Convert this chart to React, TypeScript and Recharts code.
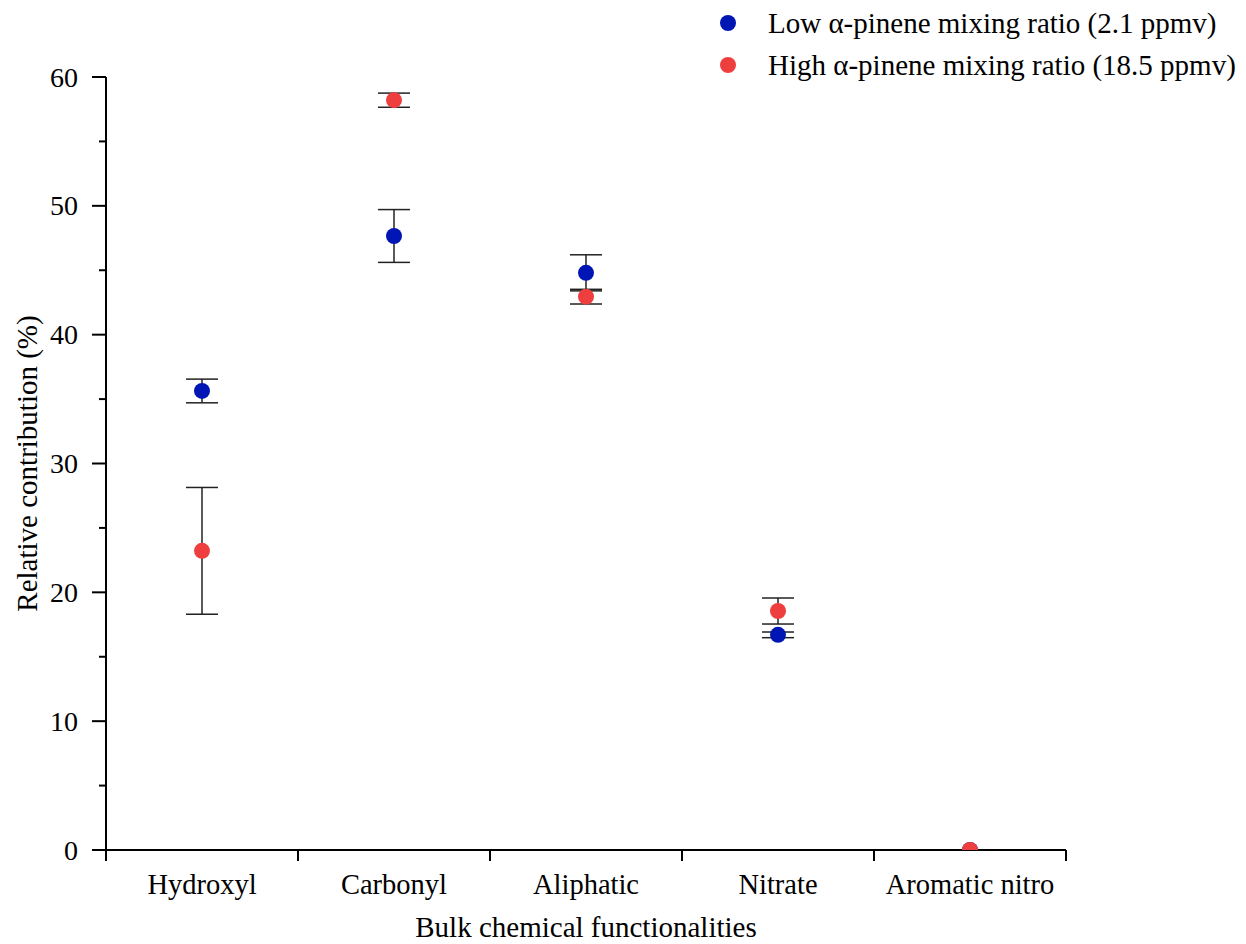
import React from "react";
import { ScatterChart, Scatter, XAxis, YAxis, ErrorBar, Legend, Label } from "recharts";

const categories = ["Hydroxyl", "Carbonyl", "Aliphatic", "Nitrate", "Aromatic nitro"];
const lowValues = [35.63, 47.66, 44.8, 16.7, 0];
const lowErrors = [0.92, 2.05, 1.4, 0.22, 0];
const highValues = [23.22, 58.2, 42.95, 18.55, 0];
const highErrors = [4.92, 0.55, 0.57, 1.01, 0];
const yTicks = [0, 5, 10, 15, 20, 25, 30, 35, 40, 45, 50, 55, 60];
const xTicks = [0, 0.5, 1, 1.5, 2, 2.5, 3, 3.5, 4, 4.5, 5];

const seriesNames = [
  "Low \u03b1-pinene mixing ratio (2.1 ppmv)",
  "High \u03b1-pinene mixing ratio (18.5 ppmv)",
];
const seriesColors = ["#0016B4", "#EE3E3E"];

const FONT = "'Liberation Serif', 'Times New Roman', serif";

const lowData = categories.map((c, i) => ({ x: i + 0.5, y: lowValues[i], err: lowErrors[i], name: c }));
const highData = categories.map((c, i) => ({ x: i + 0.5, y: highValues[i], err: highErrors[i], name: c }));

const YTick = (props: any) => {
  const { x, y, payload } = props;
  const v = payload.value;
  const major = v % 10 === 0;
  return (
    <g>
      <line x1={x - (major ? 14 : 7)} x2={x} y1={y} y2={y} stroke="#000" strokeWidth={2} />
      {major && (
        <text x={x - 28} y={y} textAnchor="end" dominantBaseline="central" fontFamily={FONT} fontSize={28} fill="#000">
          {v}
        </text>
      )}
    </g>
  );
};

const XTick = (props: any) => {
  const { x, y, payload } = props;
  const v = payload.value;
  if (Number.isInteger(v)) {
    return <line x1={x} x2={x} y1={y} y2={y + 11} stroke="#000" strokeWidth={2} />;
  }
  const idx = Math.floor(v);
  return (
    <text x={x} y={y + 34} textAnchor="middle" dominantBaseline="central" fontFamily={FONT} fontSize={28.5} fill="#000">
      {categories[idx]}
    </text>
  );
};

const Dot = (color: string) => (props: any) => {
  const { cx, cy } = props;
  return <circle cx={cx} cy={cy} r={8} fill={color} />;
};

const LegendContent = () => (
  <div style={{ fontFamily: FONT, fontSize: 29, color: "#000" }}>
    {seriesNames.map((n, i) => (
      <div key={n} style={{ display: "flex", alignItems: "center", height: 42 }}>
        <span
          style={{
            display: "inline-block",
            width: 16,
            height: 16,
            borderRadius: 8,
            background: seriesColors[i],
            marginRight: 32,
          }}
        />
        <span style={{ whiteSpace: "nowrap" }}>{n}</span>
      </div>
    ))}
  </div>
);

export default function App() {
  return (
    <div style={{ position: "absolute", left: 0, top: 0, width: 1246, height: 944, background: "#fff" }}>
      <ScatterChart width={1246} height={944} margin={{ top: 77, right: 180, bottom: 0, left: 0 }}>
        <XAxis
          type="number"
          dataKey="x"
          domain={[0, 5]}
          ticks={xTicks}
          interval={0}
          tick={<XTick />}
          tickLine={false}
          tickSize={0}
          tickMargin={0}
          height={94}
          axisLine={{ stroke: "#000", strokeWidth: 2 }}
        >
          <Label
            content={(p: any) => {
              const vb = p.viewBox;
              return (
                <text
                  x={vb.x + vb.width / 2}
                  y={vb.y + 77}
                  textAnchor="middle"
                  dominantBaseline="central"
                  fontFamily={FONT}
                  fontSize={29}
                  fill="#000"
                >
                  Bulk chemical functionalities
                </text>
              );
            }}
          />
        </XAxis>
        <YAxis
          type="number"
          dataKey="y"
          domain={[0, 60]}
          ticks={yTicks}
          interval={0}
          allowDataOverflow
          tick={<YTick />}
          tickLine={false}
          tickSize={0}
          tickMargin={0}
          width={106}
          axisLine={{ stroke: "#000", strokeWidth: 2 }}
        >
          <Label
            content={(p: any) => {
              const vb = p.viewBox;
              const cx = vb.x + 27;
              const cy = vb.y + vb.height / 2;
              return (
                <text
                  x={cx}
                  y={cy}
                  transform={`rotate(-90 ${cx} ${cy})`}
                  textAnchor="middle"
                  dominantBaseline="central"
                  fontFamily={FONT}
                  fontSize={29}
                  fill="#000"
                >
                  Relative contribution (%)
                </text>
              );
            }}
          />
        </YAxis>
        <Legend
          layout="vertical"
          align="center"
          verticalAlign="middle"
          content={<LegendContent />}
          wrapperStyle={{ position: "absolute", top: 2, left: 720, width: 526 }}
        />
        <Scatter name={seriesNames[0]} data={lowData} fill={seriesColors[0]} shape={Dot(seriesColors[0])} isAnimationActive={false}>
          <ErrorBar dataKey="err" direction="y" width={16} stroke="#222" strokeWidth={1.5} />
        </Scatter>
        <Scatter name={seriesNames[1]} data={highData} fill={seriesColors[1]} shape={Dot(seriesColors[1])} isAnimationActive={false}>
          <ErrorBar dataKey="err" direction="y" width={16} stroke="#222" strokeWidth={1.5} />
        </Scatter>
      </ScatterChart>
    </div>
  );
}
